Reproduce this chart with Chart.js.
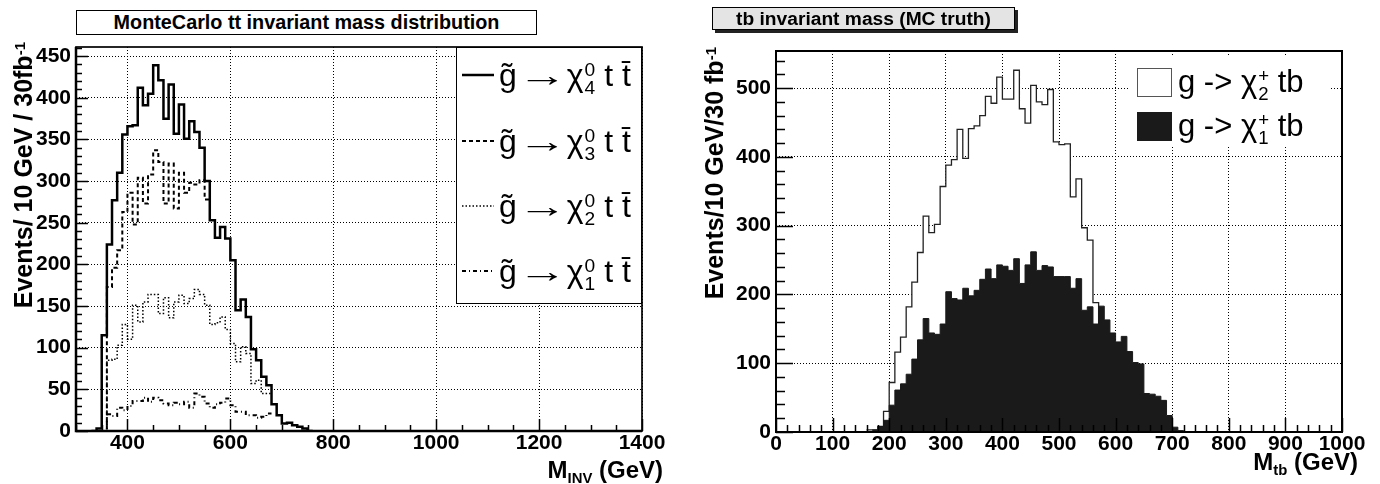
<!DOCTYPE html>
<html>
<head>
<meta charset="utf-8">
<script src="https://cdn.jsdelivr.net/npm/chart.js@4.4.1/dist/chart.umd.min.js"></script>
<style>
  body { margin: 0; background: #fff; }
  #wrap { position: relative; width: 1380px; height: 484px; overflow: hidden; font-family: 'Liberation Sans', Arial, Helvetica, sans-serif; color: #000; }
  canvas { position: absolute; top: 0; }
  .pave { position: absolute; box-sizing: border-box; border: 1px solid #000; font-weight: bold; text-align: center; white-space: nowrap; }
  .ytitle { position: absolute; width: 300px; text-align: right; transform-origin: 0 0; transform: rotate(-90deg);
            font-weight: bold; font-size: 25px; line-height: 30px; white-space: nowrap; }
  .xtitle { position: absolute; width: 300px; text-align: right; font-weight: bold; font-size: 24px; line-height: 24px; white-space: nowrap; }
  .sup { position: relative; top: -0.5em; font-size: 0.6em; }
  .sub { position: relative; top: 0.35em; font-size: 0.62em; }
  .leg { position: absolute; box-sizing: border-box; background: #fff; }
  .row { position: absolute; left: 0; height: 60px; display: flex; align-items: center; white-space: nowrap; }
  .lt { font-size: 32px; line-height: 60px; }
  .arr { display: inline-block; transform: scaleX(1.55); margin: 0 9px; }
  .ss { display: inline-flex; flex-direction: column; font-size: 0.6em; line-height: 0.95; vertical-align: 10px; margin-left: 1px; }
  .rt { font-size: 31px; line-height: 44px; }
</style>
</head>
<body>
<div id="wrap">
  <canvas id="leftChart" width="690" height="484" style="left:0"></canvas>
  <canvas id="rightChart" width="690" height="484" style="left:690px"></canvas>

  <div class="pave" style="left:76px;top:10px;width:461px;height:25px;line-height:23px;font-size:19.8px;background:#fff">MonteCarlo tt invariant mass distribution</div>
  <div class="pave" style="left:712px;top:7px;width:303px;height:23px;line-height:21px;font-size:19.2px;background:#e4e4e4;box-shadow:3px 3px 0 #222">tb invariant mass (MC truth)</div>

  <div class="ytitle" style="left:8px;top:342px">Events/ 10 GeV / 30fb<span class="sup">-1</span></div>
  <div class="ytitle" style="left:699px;top:347px">Events/10 GeV/30 fb<span class="sup">-1</span></div>

  <div class="xtitle" style="left:363px;top:458px">M<span class="sub">INV</span> (GeV)</div>
  <div class="xtitle" style="left:1058px;top:450px">M<span class="sub">tb</span> (GeV)</div>

  <div class="leg" style="left:456px;top:47px;width:186px;height:257px;border:1px solid #000">
    <div class="row" style="top:-3px">
      <svg width="42" height="8"><line x1="5" y1="4" x2="37" y2="4" stroke="#000" stroke-width="2.5"/></svg>
      <span class="lt">g&#771;<span class="arr">&#8594;</span>&#967;<span class="ss"><span>0</span><span>4</span></span> t t&#772;</span>
    </div>
    <div class="row" style="top:63px">
      <svg width="42" height="8"><line x1="5" y1="4" x2="37" y2="4" stroke="#000" stroke-width="2" stroke-dasharray="4 3"/></svg>
      <span class="lt">g&#771;<span class="arr">&#8594;</span>&#967;<span class="ss"><span>0</span><span>3</span></span> t t&#772;</span>
    </div>
    <div class="row" style="top:128px">
      <svg width="42" height="8"><line x1="5" y1="4" x2="37" y2="4" stroke="#000" stroke-width="1.5" stroke-dasharray="1.5 2"/></svg>
      <span class="lt">g&#771;<span class="arr">&#8594;</span>&#967;<span class="ss"><span>0</span><span>2</span></span> t t&#772;</span>
    </div>
    <div class="row" style="top:193px">
      <svg width="42" height="8"><line x1="5" y1="4" x2="37" y2="4" stroke="#000" stroke-width="2" stroke-dasharray="4 3 1 3"/></svg>
      <span class="lt">g&#771;<span class="arr">&#8594;</span>&#967;<span class="ss"><span>0</span><span>1</span></span> t t&#772;</span>
    </div>
  </div>

  <div class="leg" style="left:1130px;top:56px;width:200px;height:91px">
    <div style="position:absolute;left:7px;top:12px;width:35px;height:29px;box-sizing:border-box;border:1px solid #555;background:#fff"></div>
    <div style="position:absolute;left:7px;top:56px;width:35px;height:29px;box-sizing:border-box;border:1px solid #1a1a1a;background:#1a1a1a"></div>
    <div class="row" style="left:48px;top:-4px"><span class="rt">g -&gt; &#967;<span class="ss"><span>+</span><span>2</span></span> tb</span></div>
    <div class="row" style="left:48px;top:40px"><span class="rt">g -&gt; &#967;<span class="ss"><span>+</span><span>1</span></span> tb</span></div>
  </div>
</div>

<script>
// bin width of all histograms (GeV)
const binWidth = 10;

// left panel: MonteCarlo tt invariant mass, events per 10 GeV bin
const leftXTicks = [400, 600, 800, 1000, 1200, 1400];
const leftYTicks = [0, 50, 100, 150, 200, 250, 300, 350, 400, 450];
const chi4Start = 330;
const chi4Counts = [0, 3, 115, 224, 277, 310, 356, 366, 367, 412, 391, 405, 439, 421, 375, 416, 357, 392, 351, 372,
  359, 340, 300, 253, 232, 245, 231, 205, 145, 158, 137, 98, 85, 65, 55, 32, 19, 9, 10, 7, 5, 3, 0];
const chi3Start = 350;
const chi3Counts = [0, 173, 196, 217, 263, 286, 248, 304, 273, 308, 337, 323, 273, 321, 267, 310, 286, 298, 296, 301, 278];
const chi2Start = 350;
const chi2Counts = [0, 85, 86, 103, 128, 110, 151, 131, 155, 164, 164, 141, 160, 136, 155, 163, 153, 159, 170, 164,
  151, 128, 130, 137, 122, 105, 83, 101, 93, 57, 61, 45, 45];
const chi1Start = 350;
const chi1Counts = [0, 20, 18, 28, 25, 30, 36, 36, 40, 35, 40, 37, 33, 31, 34, 32, 35, 28, 45, 41,
  33, 28, 32, 34, 39, 31, 23, 23, 19, 19, 16, 17, 21];

// right panel: tb invariant mass (MC truth)
const rightXTicks = [0, 100, 200, 300, 400, 500, 600, 700, 800, 900, 1000];
const rightYTicks = [0, 100, 200, 300, 400, 500];
const chargino2Start = 160;
const chargino2Counts = [3, 3, 8, 30, 72, 116, 138, 182, 218, 261, 314, 290, 302, 357, 388, 396, 440, 398, 441, 445,
  460, 488, 478, 516, 484, 484, 526, 470, 449, 504, 480, 476, 498, 422, 418, 419, 342, 368, 297, 279, 188, 0];
const chargino1Start = 170;
const chargino1Counts = [3, 8, 17, 39, 61, 70, 84, 106, 134, 165, 144, 142, 157, 204, 194, 192, 209, 198, 206, 222,
  237, 223, 243, 241, 235, 252, 216, 243, 262, 235, 242, 240, 226, 226, 226, 209, 223, 177, 182, 157,
  183, 163, 144, 131, 139, 117, 101, 99, 56, 55, 52, 46, 24, 7, 2, 0];

Chart.defaults.font.family = "'Liberation Sans', Arial, Helvetica, sans-serif";
Chart.defaults.color = '#000';

// points at the left bin edges, plus one closing point at the right edge
function histPoints(start, counts) {
    const pts = counts.map((v, i) => ({ x: start + i * binWidth, y: v }));
    pts.push({ x: start + counts.length * binWidth, y: counts[counts.length - 1] });
    return pts;
}

// ROOT style frame with inward major/minor ticks
const rootFrame = {
    id: 'rootFrame',
    afterDatasetsDraw(chart, args, o) {
        const { ctx, chartArea: a, scales: { x, y } } = chart;
        ctx.save();
        ctx.strokeStyle = '#000';
        ctx.lineWidth = 1.5;
        ctx.beginPath();
        for (let v = Math.ceil(x.min / o.xMinor) * o.xMinor; v <= x.max + 1e-6; v += o.xMinor) {
            const px = Math.round(x.getPixelForValue(v)) + 0.5;
            const len = (v % o.xMajor === 0) ? o.xMajorLen : o.xMinorLen;
            ctx.moveTo(px, a.bottom);
            ctx.lineTo(px, a.bottom - len);
        }
        for (let v = Math.ceil(y.min / o.yMinor) * o.yMinor; v <= y.max + 1e-6; v += o.yMinor) {
            const py = Math.round(y.getPixelForValue(v)) + 0.5;
            const len = (v % o.yMajor === 0) ? o.yMajorLen : o.yMinorLen;
            ctx.moveTo(a.left, py);
            ctx.lineTo(a.left + len, py);
        }
        ctx.stroke();

        ctx.lineWidth = o.frameWidth;
        ctx.strokeRect(a.left, a.top, a.right - a.left, a.bottom - a.top);
        ctx.lineWidth = o.axisWidth;
        ctx.beginPath();
        ctx.moveTo(a.left, a.top);
        ctx.lineTo(a.left, a.bottom);
        ctx.lineTo(a.right, a.bottom);
        ctx.stroke();
        ctx.restore();
    }
};

function axis(min, max, tickValues, sizeKey, size) {
    return {
        type: 'linear',
        min: min,
        max: max,
        afterBuildTicks: s => { s.ticks = tickValues.map(v => ({ value: v })); },
        afterFit: s => { s[sizeKey] = size; },
        ticks: {
            autoSkip: false,
            maxRotation: 0,
            padding: sizeKey === 'width' ? 5 : 0,
            color: '#000',
            font: { size: 21, weight: 'bold' },
            callback: v => String(v)
        },
        grid: { color: '#000', lineWidth: 1, drawTicks: false },
        border: { display: false, dash: [1, 2] }
    };
}

function histLine(points, style) {
    return Object.assign({
        data: points,
        stepped: true,
        pointRadius: 0,
        borderColor: '#000',
        borderWidth: 2,
        fill: false,
        tension: 0
    }, style);
}

new Chart(document.getElementById('leftChart'), {
    type: 'line',
    data: {
        datasets: [
            histLine(histPoints(chi4Start, chi4Counts), { label: 'chi4', borderWidth: 2.5 }),
            histLine(histPoints(chi3Start, chi3Counts), { label: 'chi3', borderDash: [4, 3] }),
            histLine(histPoints(chi2Start, chi2Counts), { label: 'chi2', borderWidth: 1.5, borderDash: [1.5, 2] }),
            histLine(histPoints(chi1Start, chi1Counts), { label: 'chi1', borderDash: [4, 3, 1, 3] })
        ]
    },
    options: {
        responsive: false,
        animation: false,
        events: [],
        layout: { padding: { left: 0, top: 47, right: 48, bottom: 0 } },
        scales: {
            x: axis(300, 1400, leftXTicks, 'height', 53),
            y: axis(0, 461, leftYTicks, 'width', 76)
        },
        plugins: {
            legend: { display: false },
            tooltip: { enabled: false },
            rootFrame: { xMinor: 50, xMajor: 200, yMinor: 10, yMajor: 50, xMajorLen: 12, xMinorLen: 6,
                         yMajorLen: 12, yMinorLen: 6, frameWidth: 1.7, axisWidth: 2.5 }
        }
    },
    plugins: [rootFrame]
});

new Chart(document.getElementById('rightChart'), {
    type: 'line',
    data: {
        datasets: [
            histLine(histPoints(chargino1Start, chargino1Counts), { label: 'chi1+', borderWidth: 1, borderColor: '#1a1a1a',
                backgroundColor: '#1a1a1a', fill: 'origin' }),
            histLine(histPoints(chargino2Start, chargino2Counts), { label: 'chi2+', borderWidth: 1.3, borderColor: '#222',
                backgroundColor: '#fff', fill: 'origin' })
        ]
    },
    options: {
        responsive: false,
        animation: false,
        events: [],
        layout: { padding: { left: 0, top: 51, right: 38, bottom: 0 } },
        scales: {
            x: axis(0, 1000, rightXTicks, 'height', 52),
            y: axis(0, 554, rightYTicks, 'width', 86)
        },
        plugins: {
            legend: { display: false },
            tooltip: { enabled: false },
            rootFrame: { xMinor: 20, xMajor: 100, yMinor: 20, yMajor: 100, xMajorLen: 14, xMinorLen: 7,
                         yMajorLen: 17, yMinorLen: 9, frameWidth: 2, axisWidth: 2 }
        }
    },
    plugins: [rootFrame]
});
</script>
</body>
</html>
